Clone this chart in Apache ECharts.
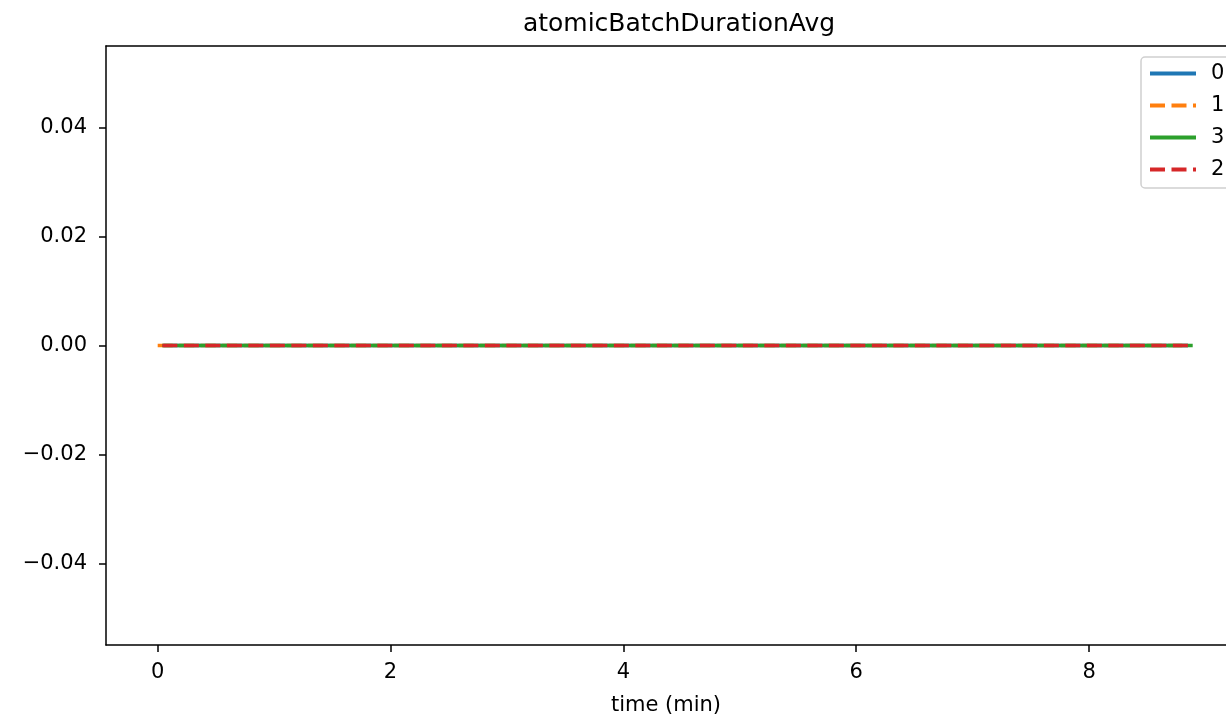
<!DOCTYPE html>
<html>
<head>
<meta charset="utf-8">
<script src="https://cdn.jsdelivr.net/npm/echarts@6/dist/echarts.min.js"></script>
<style>html,body{margin:0;padding:0;background:#fff}#c{width:1226px;height:721px}</style>
</head>
<body>
<div id="c"></div>
<script>
const seriesNames = ['0', '1', '3', '2'];
const times0 = [0.05, 0.5, 1.0, 1.5, 2.0, 2.5, 3.0, 3.5, 4.0, 4.5, 5.0, 5.5, 6.0, 6.5, 7.0, 7.5, 8.0, 8.5, 8.85];
const values0 = [0, 0, 0, 0, 0, 0, 0, 0, 0, 0, 0, 0, 0, 0, 0, 0, 0, 0, 0];
const times1 = [0.0, 0.5, 1.0, 1.5, 2.0, 2.5, 3.0, 3.5, 4.0, 4.5, 5.0, 5.5, 6.0, 6.5, 7.0, 7.5, 8.0, 8.5, 8.8];
const values1 = [0, 0, 0, 0, 0, 0, 0, 0, 0, 0, 0, 0, 0, 0, 0, 0, 0, 0, 0];
const times3 = [0.04, 0.5, 1.0, 1.5, 2.0, 2.5, 3.0, 3.5, 4.0, 4.5, 5.0, 5.5, 6.0, 6.5, 7.0, 7.5, 8.0, 8.5, 8.89];
const values3 = [0, 0, 0, 0, 0, 0, 0, 0, 0, 0, 0, 0, 0, 0, 0, 0, 0, 0, 0];
const times2 = [0.04, 0.5, 1.0, 1.5, 2.0, 2.5, 3.0, 3.5, 4.0, 4.5, 5.0, 5.5, 6.0, 6.5, 7.0, 7.5, 8.0, 8.5, 8.86];
const values2 = [0, 0, 0, 0, 0, 0, 0, 0, 0, 0, 0, 0, 0, 0, 0, 0, 0, 0, 0];
const xTicks = [0, 2, 4, 6, 8];
const yTicks = [-0.04, -0.02, 0, 0.02, 0.04];

const colors = ['#1f77b4', '#ff7f0e', '#2ca02c', '#d62728'];
const styles = ['solid', [15, 6.5], 'solid', [15, 6.5]];
const timesList = [times0, times1, times3, times2];
const valuesList = [values0, values1, values3, values2];

const font = 'DejaVu Sans';
const chart = echarts.init(document.getElementById('c'));
chart.setOption({
  animation: false,
  backgroundColor: '#fff',
  textStyle: {fontFamily: font},
  title: {
    text: 'atomicBatchDurationAvg', left: 674, top: 7, textAlign: 'center',
    textStyle: {fontFamily: font, fontSize: 25, fontWeight: 'normal', color: '#000'}
  },
  grid: {left: 106, top: 46, right: 0, height: 599, show: false, containLabel: false, outerBoundsMode: 'none'},
  legend: {
    left: 1141, top: 57, orient: 'vertical', itemWidth: 46, itemHeight: 20, itemGap: 11,
    padding: [6, 30, 8, 7],
    backgroundColor: '#fff', borderColor: '#d0d0d0', borderWidth: 1.5, borderRadius: 4,
    itemStyle: {opacity: 0},
    lineStyle: {width: 4},
    textStyle: {fontFamily: font, fontSize: 21, color: '#000', padding: [0, 0, 0, 10]},
    data: seriesNames
  },
  xAxis: [{
    type: 'value', min: -0.444, max: 9.176,
    name: 'time (min)', nameLocation: 'middle', nameGap: 50,
    nameTextStyle: {fontFamily: font, fontSize: 21, color: '#000'},
    splitLine: {show: false},
    axisLine: {show: true, onZero: false, lineStyle: {color: '#000', width: 1.5}},
    axisTick: {show: true, length: 7, customValues: xTicks, lineStyle: {color: '#000', width: 1.5}},
    axisLabel: {customValues: xTicks, fontFamily: font, fontSize: 21, color: '#000', margin: 17}
  }, {
    type: 'value', position: 'top', min: -0.444, max: 9.176,
    splitLine: {show: false}, axisTick: {show: false}, axisLabel: {show: false},
    axisLine: {show: true, onZero: false, lineStyle: {color: '#000', width: 1.5}}
  }],
  yAxis: {
    type: 'value', min: -0.055, max: 0.055,
    splitLine: {show: false},
    axisLine: {show: true, onZero: false, lineStyle: {color: '#000', width: 1.5}},
    axisTick: {show: true, length: 7, customValues: yTicks, lineStyle: {color: '#000', width: 1.5}},
    axisLabel: {customValues: yTicks, fontFamily: font, fontSize: 21, color: '#000', margin: 19,
      formatter: v => v.toFixed(2).replace('-', '\u2212')}
  },
  series: seriesNames.map((n, i) => ({
    name: n, type: 'line', showSymbol: false, symbol: 'none',
    xAxisIndex: 0,
    color: colors[i],
    lineStyle: {color: colors[i], width: 3.6, type: styles[i]},
    data: timesList[i].map((t, j) => [t, valuesList[i][j]])
  }))
});
</script>
</body>
</html>
